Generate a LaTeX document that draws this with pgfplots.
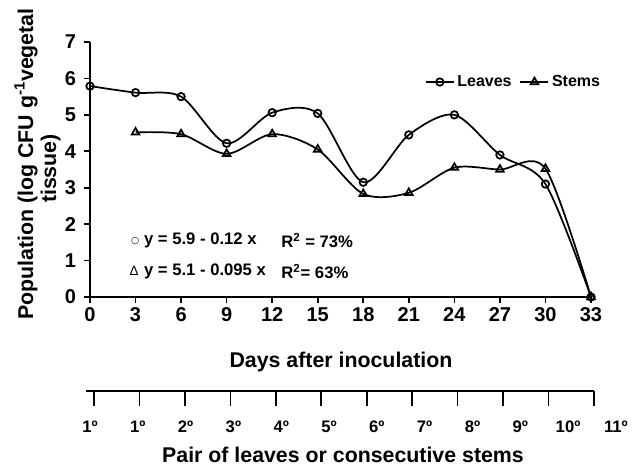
\documentclass[border=0pt]{standalone}
\usepackage{fontspec}
\setmainfont{Liberation Sans}
\newfontfamily\dejavu{DejaVu Sans}
\usepackage{pgfplots}
\usepackage{pgfplotstable}
\pgfplotsset{compat=1.18}

% population (log CFU/g) per sampling day
\pgfplotstableread{
day pop
0  5.79
3  5.61
6  5.50
9  4.22
12 5.06
15 5.04
18 3.15
21 4.45
24 5.00
27 3.90
30 3.10
33 0.00
}\leaves
\pgfplotstableread{
day pop
3  4.52
6  4.47
9  3.93
12 4.47
15 4.05
18 2.83
21 2.86
24 3.55
27 3.50
30 3.52
33 0.00
}\stems

\begin{document}
\begin{tikzpicture}
\path[use as bounding box] (0,0) rectangle (482.25pt,-349.5pt);

\begin{axis}[
    at={(67.5pt,-222.75pt)}, anchor=origin,
    scale only axis, width=375.75pt, height=191.25pt,
    xmin=0, xmax=33, ymin=0, ymax=7,
    axis lines*=left,
    xtick={0,3,...,33}, ytick={0,1,...,7},
    tick align=outside, major tick length=4.5pt,
    axis line style={line width=1.4pt},
    tick style={line width=1.2pt, black},
    tick label style={font=\fontsize{15}{18}\selectfont\bfseries},
    yticklabel style={xshift=-2.5pt},
    /pgf/number format/assume math mode=true,
    clip=false,
    legend columns=2,
    legend style={at={(0.846,0.843)}, anchor=center, draw=none, fill=none,
        font=\fontsize{12}{14}\selectfont\bfseries,
        /tikz/every even column/.style={column sep=4pt}},
    legend image code/.code={\draw[mark repeat=2,mark phase=2]
        plot coordinates {(0pt,0pt) (10.5pt,0pt) (21pt,0pt)};},
]
\addplot[black, line width=1.3pt, smooth, mark=o, mark size=2.8pt,
    mark options={solid, line width=1.3pt}] table[x=day, y=pop] {\leaves};
\addlegendentry{Leaves}
\addplot[black, line width=1.3pt, smooth, mark=triangle, mark size=3.3pt,
    mark options={solid, line width=1.3pt}] table[x=day, y=pop] {\stems};
\addlegendentry{Stems}

\node[anchor=west, font=\fontsize{7}{8}\selectfont\dejavu] at (axis cs:2.40,1.54) {○};
\node[anchor=west, font=\fontsize{12.5}{14}\selectfont\bfseries] at (axis cs:3.25,1.54) {y = 5.9 - 0.12 x};
\node[anchor=west, font=\fontsize{12.5}{14}\selectfont\bfseries] at (axis cs:12.3,1.54) {R\textsuperscript{2} = 73\%};
\node[anchor=west, font=\fontsize{10}{12}\selectfont] at (axis cs:2.30,0.71) {Δ};
\node[anchor=west, font=\fontsize{12.5}{14}\selectfont\bfseries] at (axis cs:3.25,0.71) {y = 5.1 - 0.095 x};
\node[anchor=west, font=\fontsize{12.5}{14}\selectfont\bfseries] at (axis cs:12.3,0.71) {R\textsuperscript{2}= 63\%};
\end{axis}

% second scale: pair of leaves / consecutive stems
\begin{axis}[
    at={(70.5pt,-293.25pt)}, anchor=origin,
    scale only axis, width=381pt, height=10pt,
    xmin=-0.176, xmax=11, ymin=0, ymax=1,
    axis x line*=bottom, axis y line=none,
    xtick={0,1,...,11},
    xticklabels={1º,1º,2º,3º,4º,5º,6º,7º,8º,9º,10º,11º},
    tick align=outside, major tick length=11.25pt,
    axis line style={line width=1.5pt},
    tick style={line width=1.2pt, black},
    xticklabel style={font=\fontsize{12.5}{15}\selectfont\bfseries,
        xshift={(2.35*\ticknum-4)*0.75pt}, yshift=-7.5pt},
]
\addplot[draw=none, forget plot] coordinates {(0,0)};
\end{axis}

\node[rotate=90, anchor=base, font=\fontsize{16}{19}\selectfont\bfseries]
    at (24.75pt,-123pt) {Population (log CFU g\textsuperscript{-1}vegetal};
\node[rotate=90, anchor=base, font=\fontsize{16}{19}\selectfont\bfseries]
    at (42pt,-126.4pt) {tissue)};
\node[anchor=base, font=\fontsize{16}{19}\selectfont\bfseries]
    at (255.75pt,-276pt) {Days after inoculation};
\node[anchor=base, font=\fontsize{16}{19}\selectfont\bfseries, inner sep=1pt]
    at (257.25pt,-347pt) {Pair of leaves or consecutive stems};
\end{tikzpicture}
\end{document}
